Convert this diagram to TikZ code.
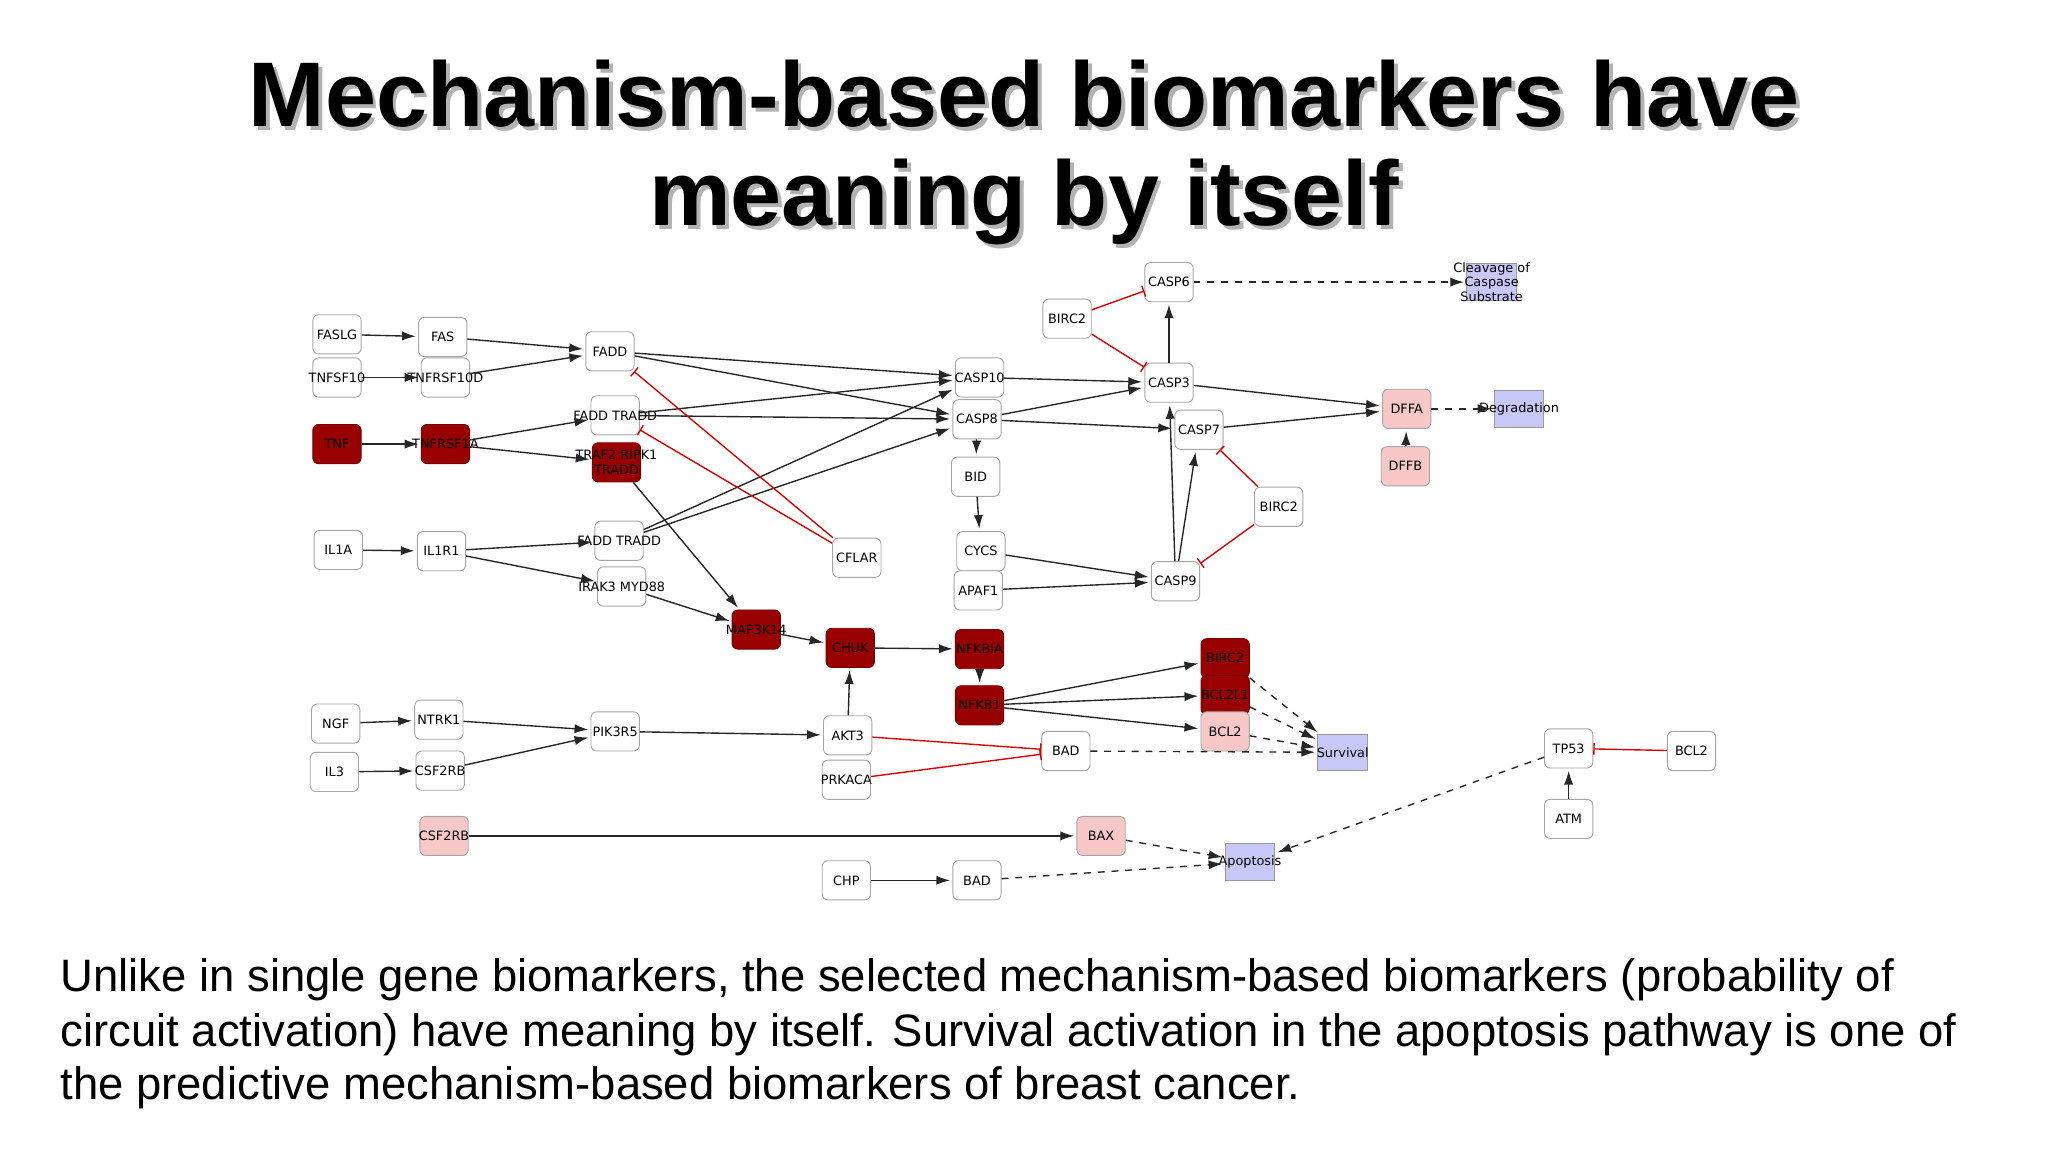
\documentclass[tikz,border=0pt]{standalone}
\usepackage{fontspec}
\setmainfont{Liberation Sans}
\newfontfamily\nodefont{DejaVu Sans}
\usetikzlibrary{arrows.meta}
\definecolor{dred}{HTML}{990000}
\definecolor{lpink}{HTML}{F8C8C8}
\definecolor{lav}{HTML}{C8C8F8}
\tikzset{
 every label/.style={font=\nodefont\fontsize{5.6}{6.3}\selectfont,align=center,inner sep=0pt},
 g/.style={draw=black!35,rounded corners=2.5pt,minimum width=0.74cm,minimum height=0.6cm,inner sep=0pt,fill=white,line width=0.4pt},
 dk/.style={g,fill=dred,draw=dred!80!black},
 pk/.style={g,fill=lpink,draw=black!35},
 lv/.style={draw=black!40,fill=lav,minimum width=0.76cm,minimum height=0.56cm,inner sep=0pt},
 act/.style={-{Latex[length=6pt,width=4pt]},line width=0.6pt,black!85,shorten >=1pt},
 dact/.style={act,dashed},
 inh/.style={-{Bar[width=5pt]},red!85!black,line width=0.6pt},
}
\begin{document}
\begin{tikzpicture}[x=0.02cm,y=-0.02cm]
\useasboundingbox (0,0) rectangle (1568,882);
\fill[white] (0,0) rectangle (1568,882);
% title
\foreach \dx/\c in {3/black!30,0/black}{
\node[font=\bfseries\fontsize{40}{44}\selectfont,text=\c] at (784+\dx,72+\dx) {Mechanism-based biomarkers have};
\node[font=\bfseries\fontsize{40}{44}\selectfont,text=\c] at (784+\dx,155+\dx) {meaning by itself};}
% body
\foreach \t/\y in {{Unlike in single gene biomarkers, the selected mechanism-based biomarkers (probability of}/750,
 {circuit activation) have meaning by itself. Survival activation in the apoptosis pathway is one of}/792,
 {the predictive mechanism-based biomarkers of breast cancer.}/833}
 \node[anchor=west,inner sep=0pt,font=\fontsize{19.8}{23}\selectfont] at (46,\y) {\t};
% nodes
\node[g,label=center:FASLG] (faslg) at (258,256) {};
\node[g,label=center:FAS] (fas) at (339,258) {};
\node[g,label=center:TNFSF10] (tnfsf10) at (258,289) {};
\node[g,label=center:TNFRSF10D] (tnfrsf10d) at (341,289) {};
\node[g,label=center:FADD] (fadd) at (467,269) {};
\node[g,label=center:FADD TRADD] (ft1) at (471,318) {};
\node[dk,label=center:TNF] (tnf) at (258,340) {};
\node[dk,label=center:TNFRSF1A] (tnfr1a) at (341,340) {};
\node[dk,label={center:TRAF2 RIPK1\\TRADD}] (traf2) at (472,354) {};
\node[g,label=center:IL1A] (il1a) at (259,421) {};
\node[g,label=center:IL1R1] (il1r1) at (338,422) {};
\node[g,label=center:FADD TRADD] (ft2) at (474,414) {};
\node[g,label=center:IRAK3 MYD88] (irak3) at (476,449) {};
\node[g,label=center:CFLAR] (cflar) at (656,427) {};
\node[g,label=center:CASP10] (casp10) at (750,289) {};
\node[g,label=center:CASP8] (casp8) at (748,321) {};
\node[g,label=center:BID] (bid) at (747,365) {};
\node[g,label=center:CYCS] (cycs) at (751,422) {};
\node[g,label=center:APAF1] (apaf1) at (749,452) {};
\node[g,label=center:CASP6] (casp6) at (895,216) {};
\node[g,label=center:BIRC2] (birc2a) at (817,244) {};
\node[g,label=center:CASP3] (casp3) at (895,293) {};
\node[g,label=center:CASP7] (casp7) at (918,329) {};
\node[g,label=center:BIRC2] (birc2b) at (979,388) {};
\node[g,label=center:CASP9] (casp9) at (900,445) {};
\node[pk,label=center:DFFA] (dffa) at (1077,313) {};
\node[pk,label=center:DFFB] (dffb) at (1076,357) {};
\node[lv,label=center:Degradation] (degr) at (1163,313) {};
\node[lv,label={center:Cleavage of\\Caspase\\Substrate}] (cleav) at (1142,216) {};
\node[dk,label=center:MAP3K14] (map3k14) at (579,482) {};
\node[dk,label=center:CHUK] (chuk) at (651,496) {};
\node[dk,label=center:NFKBIA] (nfkbia) at (750,497) {};
\node[dk,label=center:NFKB1] (nfkb1) at (750,540) {};
\node[dk,label=center:BIRC2] (birc2c) at (938,504) {};
\node[dk,label=center:BCL2L1] (bcl2l1) at (938,532) {};
\node[pk,label=center:BCL2] (bcl2a) at (938,560) {};
\node[g,label=center:BAD] (bad) at (816,575) {};
\node[lv,label=center:Survival] (surv) at (1028,576) {};
\node[g,label=center:AKT3] (akt3) at (649,563) {};
\node[g,label=center:PRKACA] (prkaca) at (648,597) {};
\node[g,label=center:NGF] (ngf) at (257,554) {};
\node[g,label=center:NTRK1] (ntrk1) at (336,551) {};
\node[g,label=center:IL3] (il3) at (256,591) {};
\node[g,label=center:CSF2RB] (csf2rb) at (337,590) {};
\node[g,label=center:PIK3R5] (pik3r5) at (471,560) {};
\node[g,label=center:TP53] (tp53) at (1201,573) {};
\node[g,label=center:BCL2] (bcl2b) at (1295,575) {};
\node[g,label=center:ATM] (atm) at (1201,627) {};
\node[pk,label=center:CSF2RB] (csf2rbp) at (340,640) {};
\node[pk,label=center:BAX] (bax) at (843,640) {};
\node[lv,label=center:Apoptosis] (apop) at (957,660) {};
\node[g,label=center:CHP] (chp) at (648,674) {};
\node[g,label=center:BAD] (bad2) at (748,674) {};
% edges
\foreach \a/\b in {faslg/fas,fas/fadd,tnfsf10/tnfrsf10d,tnfrsf10d/fadd,fadd/casp10,fadd/casp8,tnf/tnfr1a,tnfr1a/ft1,tnfr1a/traf2,ft1/casp10,ft1/casp8,traf2/map3k14,il1a/il1r1,il1r1/ft2,il1r1/irak3,ft2/casp10,ft2/casp8,irak3/map3k14,casp10/casp3,casp8/casp3,casp8/casp7,casp8/bid,bid/cycs,cycs/casp9,apaf1/casp9,casp3/casp6,casp3/dffa,casp7/dffa,dffb/dffa,map3k14/chuk,chuk/nfkbia,nfkbia/nfkb1,akt3/chuk,nfkb1/birc2c,nfkb1/bcl2l1,nfkb1/bcl2a,ngf/ntrk1,ntrk1/pik3r5,il3/csf2rb,csf2rb/pik3r5,pik3r5/akt3,csf2rbp/bax,chp/bad2,atm/tp53,casp9/casp3,casp9/casp7}
 \draw[act] (\a) -- (\b);
\foreach \a/\b in {dffa/degr,casp6/cleav,birc2c/surv,bcl2l1/surv,bcl2a/surv,bad/surv,bax/apop,bad2/apop,tp53/apop}
 \draw[dact] (\a) -- (\b);
\foreach \a/\b in {cflar/fadd,cflar/ft1,birc2a/casp6,birc2a/casp3,birc2b/casp7,birc2b/casp9,akt3/bad,prkaca/bad,bcl2b/tp53}
 \draw[inh] (\a) -- (\b);
\end{tikzpicture}
\end{document}
